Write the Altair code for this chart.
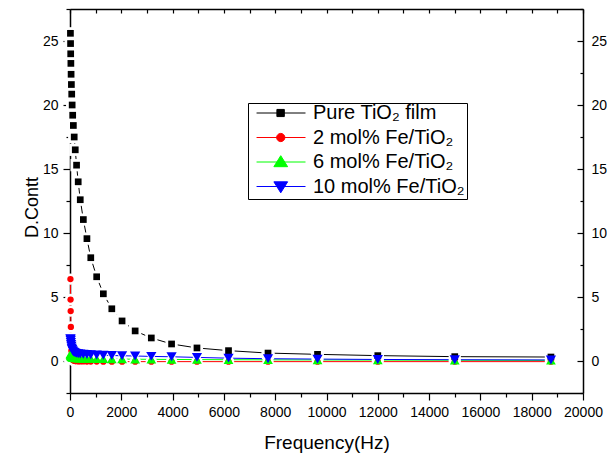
import altair as alt
import pandas as pd

# ---------------- data ----------------
freq_hz = [17, 22, 27, 34, 43, 54, 67, 84, 105, 131, 164, 205, 256, 320, 400, 520,
           660, 810, 1040, 1300, 1630, 2030, 2540, 3170, 3960, 4950, 6180, 7720,
           9650, 12000, 15000, 18750]
pure_tio2 = [25.6, 24.8, 24.0, 23.25, 22.4, 21.6, 20.85, 20.0, 19.2, 18.4, 17.5, 16.5,
             15.3, 14.0, 12.6, 11.05, 9.56, 8.07, 6.58, 5.25, 4.08, 3.13, 2.35, 1.80,
             1.33, 1.02, 0.81, 0.62, 0.52, 0.42, 0.34, 0.31]
fe_2 = [6.4, 4.8, 3.9, 2.66, 1.5, 0.8, 0.4, 0.2, 0.1, 0.05, 0.02, 0.0, -0.01, -0.02,
        -0.03, -0.03, -0.04, -0.04, -0.04, -0.05, -0.05, -0.05, -0.05, -0.05, -0.05,
        -0.05, -0.05, -0.05, -0.05, -0.05, -0.05, -0.05]
fe_6 = [0.55, 0.5, 0.45, 0.42, 0.38, 0.35, 0.32, 0.3, 0.28, 0.26, 0.25, 0.24, 0.23,
        0.22, 0.21, 0.2, 0.2, 0.19, 0.18, 0.17, 0.16, 0.15, 0.14, 0.13, 0.12, 0.11,
        0.1, 0.09, 0.08, 0.07, 0.06, 0.05]
fe_10 = [1.75, 1.7, 1.6, 1.45, 1.3, 1.15, 1.0, 0.9, 0.8, 0.72, 0.67, 0.63, 0.6, 0.57,
         0.55, 0.53, 0.51, 0.49, 0.47, 0.45, 0.43, 0.41, 0.39, 0.36, 0.33, 0.28, 0.22,
         0.18, 0.15, 0.12, 0.1, 0.08]

series_names = ["Pure TiO\u2082 film", "2 mol% Fe/TiO\u2082", "6 mol% Fe/TiO\u2082",
                "10 mol% Fe/TiO\u2082"]
series_values = [pure_tio2, fe_2, fe_6, fe_10]

x_ticks = [0, 1000, 2000, 3000, 4000, 5000, 6000, 7000, 8000, 9000, 10000, 11000,
           12000, 13000, 14000, 15000, 16000, 17000, 18000, 19000, 20000]
y_ticks = [-2.5, 0, 2.5, 5, 7.5, 10, 12.5, 15, 17.5, 20, 22.5, 25, 27.5]
y_labels = [0, 5, 10, 15, 20, 25]

# ---------------- styles ----------------
colors = ["#000000", "#FF0000", "#00FF00", "#0000FF"]
marker_shapes = ["square", "circle", "triangle-up", "triangle-down"]
marker_sizes = [45, 40, 95, 105]
halo_sizes = [150, 130, 200, 210]
legend_paths = [
    "M-0.78,0H1M-0.04,-0.13H0.23V0.13H-0.04Z",
    "M-0.78,0H1M-0.05,0A0.15,0.15,0,1,1,0.25,0A0.15,0.15,0,1,1,-0.05,0Z",
    "M-0.78,0H1M-0.15,0.17L0.1,-0.23L0.35,0.17Z",
    "M-0.78,0H1M-0.15,-0.17L0.1,0.23L0.35,-0.17Z",
]
FONT = "Liberation Sans"
W, H = 513, 384

rows = []
for name, vals in zip(series_names, series_values):
    for f, v in zip(freq_hz, vals):
        rows.append({"freq": f, "val": v, "series": name})
df = pd.DataFrame(rows)

xscale = alt.Scale(domain=[0, 20000], nice=False, zero=False)
yscale = alt.Scale(domain=[-2.5, 27.5], nice=False, zero=False)

X_none = alt.X("freq:Q", scale=xscale, axis=None)
Y_none = alt.Y("val:Q", scale=yscale, axis=None)

bottom_axis = alt.Axis(
    values=x_ticks, format="d",
    labelExpr="datum.value % 2000 === 0 ? datum.label : ''",
    tickSize={"condition": {"test": "datum.value % 2000 === 0", "value": 7}, "value": 4},
    tickColor="black", tickWidth=1.2, domainColor="black", domainWidth=1.5,
    labelFont=FONT, labelFontSize=14, labelColor="black", labelPadding=5,
    labelFlush=False, labelOverlap=False, grid=False,
    title="Frequency(Hz)", titleFont=FONT, titleFontSize=19, titleFontWeight="normal",
    titleColor="black", titleX=W / 2, titleY=55, titleBaseline="alphabetic",
    titleAlign="center",
)
left_axis = alt.Axis(
    values=y_ticks, format="d",
    labelExpr="datum.value % 5 === 0 && datum.value >= 0 && datum.value <= 25 ? datum.label : ''",
    tickSize={"condition": {"test": "datum.value % 5 === 0", "value": 7}, "value": 4},
    tickColor="black", tickWidth=1.2, domainColor="black", domainWidth=1.5,
    labelFont=FONT, labelFontSize=14, labelColor="black", labelPadding=5,
    labelFlush=False, labelOverlap=False, grid=False,
    title="D.Contt", titleFont=FONT, titleFontSize=18, titleFontWeight="normal",
    titleColor="black", titleX=-33, titleY=198, titleBaseline="alphabetic",
    titleAlign="center",
)
top_axis = alt.Axis(
    orient="bottom", offset=-H, values=x_ticks, labels=False, title=None,
    tickSize=4, tickColor="black", tickWidth=1.2, domainColor="black",
    domainWidth=1.5, grid=False,
)
right_tick_axis = alt.Axis(
    orient="left", offset=-W, values=y_ticks, labels=False, title=None,
    tickSize={"condition": {"test": "datum.value % 5 === 0", "value": 6}, "value": 3},
    tickColor="black", tickWidth=1.2, domainColor="black", domainWidth=1.5, grid=False,
)
right_label_axis = alt.Axis(
    orient="right", values=y_labels, format="d", ticks=False, tickSize=0, domain=False,
    labelFont=FONT, labelFontSize=14, labelColor="black", labelPadding=8,
    title=None, grid=False, labelFlush=False, labelOverlap=False,
)

base = alt.Chart(df)

# axis-carrying layer (no marks drawn)
axes_main = base.transform_filter("false").mark_point(opacity=0).encode(
    x=alt.X("freq:Q", scale=xscale, axis=bottom_axis),
    y=alt.Y("val:Q", scale=yscale, axis=left_axis),
)

lines, halos, markers = [], [], []
for name, col, shp, sz, hsz in zip(series_names, colors, marker_shapes, marker_sizes, halo_sizes):
    sub = base.transform_filter(alt.datum.series == name)
    lines.append(sub.mark_line(strokeWidth=1, color=col).encode(
        x=X_none, y=Y_none, order=alt.Order("freq:Q")))
    halos.append(sub.mark_point(shape=shp, filled=True, color="white", opacity=1, size=hsz)
                 .encode(x=X_none, y=Y_none))
    markers.append(sub.mark_point(shape=shp, filled=True, color=col, opacity=1, size=sz)
                   .encode(x=X_none, y=Y_none))

leg = alt.Legend(
    title=None, orient="none", legendX=178, legendY=94, direction="vertical",
    labelFont=FONT, labelFontSize=20, labelColor="black", labelLimit=400,
    labelOffset=7, symbolSize=3025, symbolStrokeWidth=1, clipHeight=16,
    rowPadding=4.5, padding=2, strokeColor="black", fillColor="white",
)
legend_layer = base.transform_filter("false").mark_point(filled=True, opacity=1).encode(
    fill=alt.Fill("series:N", scale=alt.Scale(domain=series_names, range=colors), legend=leg),
    stroke=alt.Stroke("series:N", scale=alt.Scale(domain=series_names, range=colors), legend=leg),
    shape=alt.Shape("series:N", scale=alt.Scale(domain=series_names, range=legend_paths), legend=leg),
)

frame_layer = base.transform_filter("false").mark_point(opacity=0).encode(
    x=alt.X("freq:Q", scale=xscale, axis=top_axis),
    y=alt.Y("val:Q", scale=yscale, axis=right_tick_axis),
)
right_labels_layer = base.transform_filter("false").mark_point(opacity=0).encode(
    x=X_none,
    y=alt.Y("val:Q", scale=yscale, axis=right_label_axis),
)

chart = alt.layer(
    axes_main, *lines, *halos, *markers, legend_layer, frame_layer, right_labels_layer
).resolve_axis(
    x="independent", y="independent"
).properties(
    width=W, height=H,
    autosize=alt.AutoSizeParams(type="none"),
    padding={"left": 70, "top": 9, "right": 24, "bottom": 61},
    background="white",
).configure_view(stroke="transparent")

chart.save("out.html", embed_options={"renderer": "svg", "actions": False})
